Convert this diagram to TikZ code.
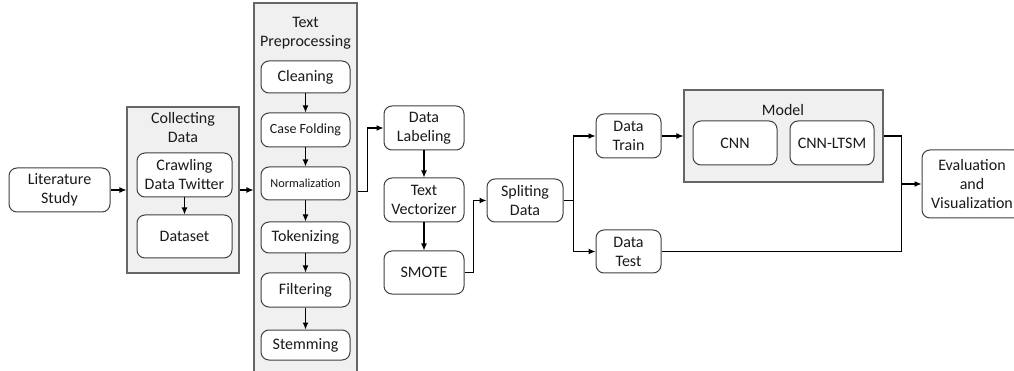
\documentclass[tikz,border=0pt]{standalone}
\usepackage{fontspec}
\setmainfont{Carlito}
\usetikzlibrary{arrows.meta,calc}
\definecolor{cfill}{HTML}{F0F0F0}
\definecolor{cline}{HTML}{404040}
\definecolor{ctext}{HTML}{1A1A1A}
\tikzset{
  box/.style={draw=cline, line width=1pt, rounded corners=8pt, fill=white, align=center,
    inner sep=0pt, text=ctext, font=\fontsize{16}{19}\selectfont},
  group/.style={draw=cline!80, line width=1.1pt, fill=cfill, inner sep=0pt},
  gtitle/.style={align=center, text=ctext, font=\fontsize{16}{19.5}\selectfont},
  conn/.style={draw=black, line width=1.1pt, -{Latex[length=7pt,width=6pt]}},
  plain/.style={draw=black, line width=1.1pt}
}
\begin{document}
\begin{tikzpicture}[x=1pt,y=-1pt]
\clip (0,0) rectangle (1014,371);
\fill[white] (0,0) rectangle (1014,371);
% containers
\node[group, minimum width=112pt, minimum height=166pt] (collect) at (183,190) {};
\node[gtitle] (collectT) at (183,127.5) {Collecting\\Data};
\node[group, minimum width=103pt, minimum height=377pt] (tp) at (305.5,191.5) {};
\node[gtitle] (tpT) at (305.5,33) {Text\\Preprocessing};
\node[group, minimum width=199pt, minimum height=92pt] (model) at (783.5,136) {};
\node[gtitle] (modelT) at (783,110) {Model};
% boxes
\node[box, minimum width=101pt, minimum height=44pt] (lit) at (59.5,190) {Literature\\Study};
\node[box, minimum width=95pt, minimum height=44pt] (crawl) at (184.5,175) {Crawling\\Data Twitter};
\node[box, minimum width=95pt, minimum height=43pt] (dataset) at (184.5,236.5) {Dataset};
\node[box, minimum width=89pt, minimum height=32pt] (clean) at (305.5,77) {Cleaning};
\node[box, minimum width=89pt, minimum height=34pt, font=\fontsize{14}{16}\selectfont] (fold) at (305.5,130) {Case Folding};
\node[box, minimum width=89pt, minimum height=33pt, font=\fontsize{12.3}{14}\selectfont] (norm) at (305.5,183.5) {Normalization};
\node[box, minimum width=89pt, minimum height=31pt] (token) at (305.5,237.5) {Tokenizing};
\node[box, minimum width=89pt, minimum height=34pt] (filter) at (305.5,290) {Filtering};
\node[box, minimum width=89pt, minimum height=30pt] (stem) at (305.5,345) {Stemming};
\node[box, minimum width=80pt, minimum height=44pt] (label) at (424,128) {Data\\Labeling};
\node[box, minimum width=80pt, minimum height=44pt] (vect) at (424,200) {Text\\Vectorizer};
\node[box, minimum width=80pt, minimum height=43pt] (smote) at (424,272.5) {SMOTE};
\node[box, minimum width=76pt, minimum height=43pt] (split) at (525,200.5) {Spliting\\Data};
\node[box, minimum width=65pt, minimum height=44pt] (train) at (628.5,136) {Data\\Train};
\node[box, minimum width=65pt, minimum height=43pt] (test) at (628.5,251.5) {Data\\Test};
\node[box, minimum width=84pt, minimum height=44pt] (cnn) at (735,143) {CNN};
\node[box, minimum width=84pt, minimum height=44pt] (cnnl) at (832,143) {CNN-LTSM};
\node[box, minimum width=100pt, minimum height=68pt] (eval) at (972,184) {Evaluation\\and\\Visualization};
% connectors
\draw[conn] (lit.east) -- (lit.east -| collect.west);
\draw[conn] (collect.east) -- (collect.east -| tp.west);
\draw[conn] (crawl) -- (dataset);
\draw[conn] (clean) -- (fold);
\draw[conn] (fold) -- (norm);
\draw[conn] (norm) -- (token);
\draw[conn] (token) -- (filter);
\draw[conn] (filter) -- (stem);
\draw[conn] (tp.east) -- ++(10,0) |- (label.west);
\draw[conn] (label) -- (vect);
\draw[conn] (vect) -- (smote);
\draw[conn] (smote.east) -- ++(9,0) |- (split.west);
\draw[plain] (split.east) -- ++(10,0) coordinate (br);
\draw[conn] (br) |- (train.west);
\draw[conn] (br) |- (test.west);
\draw[conn] (train.east) -- (model.west);
\draw[conn] (model.east) -- ++(18,0) coordinate (mj) |- (eval.west);
\draw[plain] (test.east) -| (mj);
\end{tikzpicture}
\end{document}
